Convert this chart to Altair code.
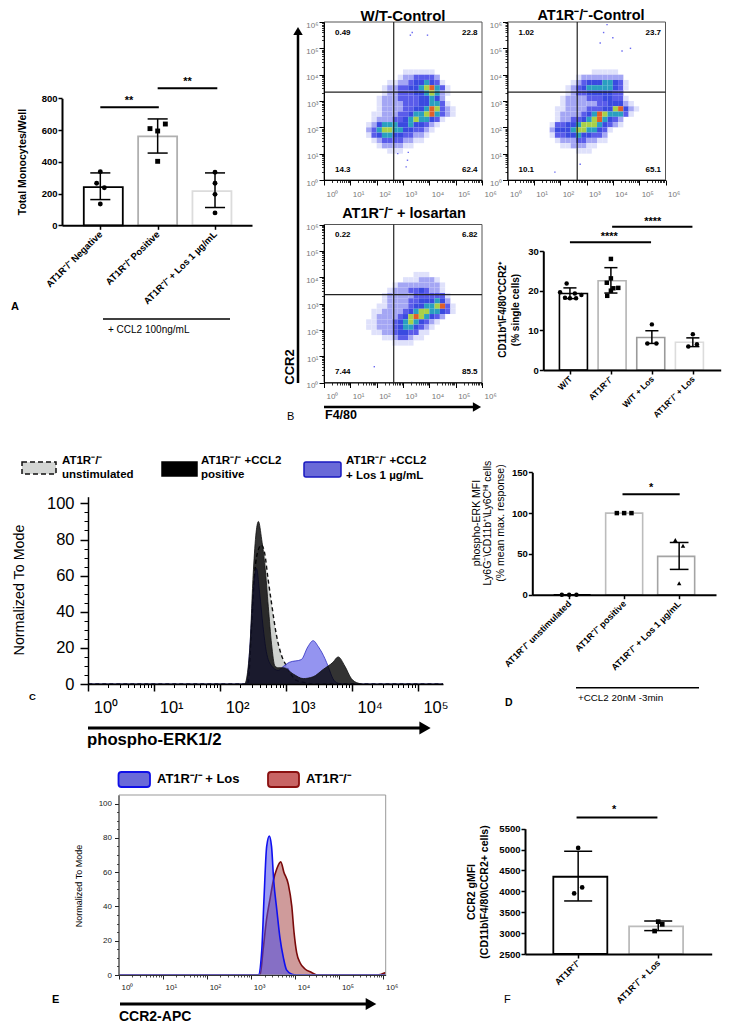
import altair as alt
import pandas as pd

CW, CH = 715, 1019
FONT = "Liberation Sans"
R = "AT1R⁻/⁻"

# ---------- panel A
a_labels = [R + " Negative", R + " Positive", R + " + Los 1 µg/mL"]
a_means = [240, 560, 215]
a_hi = [330, 670, 330]
a_lo = [162, 455, 112]
a_colors = ["#000000", "#b0b0b0", "#dcdcdc"]
a_pts_x = [0, -0.064, 0.07, 0, 0.866, 1, 1.134, 1, 2, 2, 2, 2]
a_pts_y = [338, 265, 237, 134, 609, 594, 638, 403, 334, 265, 195, 78]
a_shapes = ["circle"] * 4 + ["square"] * 4 + ["circle"] * 4

# ---------- panel B bars
b_labels = ["W/T", R, "W/T + Los", R + " + Los"]
b_means = [19.3, 22.5, 8.2, 7.0]
b_hi = [20.7, 25.8, 9.9, 8.1]
b_lo = [18.0, 19.4, 6.7, 5.9]
b_colors = ["#000000", "#b4b4b4", "#9a9a9a", "#dcdcdc"]
b_pts_x = [-0.08, -0.24, 0.12, 0.28, -0.12, 0, 0.15,
           1, 1, 0.9, 1.18, 1, 1.06, 0.91, 2, 1.89, 2.11, 3, 2.89, 3.1]
b_pts_y = [21.8, 19.6, 19.3, 18.9, 18.2, 18.1, 18.1,
           28, 23.1, 22, 20.7, 20.0, 20.6, 18.7, 11.5, 6.7, 6.7, 9, 5.9, 6.5]
b_shapes = ["circle"] * 7 + ["square"] * 7 + ["circle"] * 6

# ---------- flow density grids: columns log10 x 1.7..4.9, rows log10 y 4.1..1.1 (levels read by eye)
flow_wt = ["00000001111110000", "00000012233332000", "00001122344543100", "00012233445675310",
           "00012233344565210", "00122233334454200", "00122223334455310", "00122223344576321",
           "01122233455675321", "01222334565543100", "12455544544321000", "23566554433210000",
           "13455443322100000", "01233332211000000", "00122221100000000", "00001110000000000"]
flow_ko = ["00000000111110000", "00000122222222000", "00001234445543100", "00012345555543100",
           "00012334444433000", "00122223334433100", "00122222233444210", "01122223334467421",
           "01222234576555310", "01223345675432000", "13344566654321000", "24445665543100000",
           "13344544332000000", "01222332211000000", "00112221100000000", "00000111000000000"]
flow_los = ["00000000011100000", "00000001112221000", "00000122222222100", "00001222334322100",
            "00012222233333310", "00012222334445420", "00112222344556731", "01122223456655431",
            "01222234676543200", "11222345654321000", "11222345543210000", "01122344331100000",
            "00011233211000000", "00000111100000000", "00000000000000000", "00000000000000000"]
flow_colors = ["#dfe1fb", "#a4a6f4", "#5a5cea", "#3a4ae0", "#2a9fc0", "#a8d048", "#e06028"]
stray_wt = [(3.35, 5.6), (3.28, 5.5), (3.93, 5.5), (3.2, 1.05), (3.17, 0.75), (3.12, 0.5), (2.8, 1.0)]
stray_ko = [(3.78, 5.9), (4.0, 5.4), (4.35, 4.9), (4.67, 5.0), (3.52, 5.2), (3.65, 5.6), (1.8, 0.3), (2.76, 0.6)]
stray_los = [(1.91, 0.6), (3.33, 0.0)]
flow_wt_q = ["0.49", "22.8", "14.3", "62.4"]
flow_ko_q = ["1.02", "23.7", "10.1", "65.1"]
flow_los_q = ["0.22", "6.82", "7.44", "85.5"]

# ---------- panel C histogram curves (log10 intensity, normalized count)
c_gray_e = [0, 2.42, 2.475, 2.525, 2.576, 2.626, 2.677, 2.727, 2.778, 2.854, 2.929, 3.005, 3.08, 3.157, 3.258, 3.41, 5.38]
c_gray_y = [0, 0, 30, 62, 74, 77, 72, 58, 45, 27, 16, 10, 5, 2, 1, 0, 0]
c_blue_e = [0, 2.40, 2.45, 2.50, 2.55, 2.60, 2.65, 2.70, 2.78, 2.88, 2.95, 3.05, 3.23, 3.33, 3.41, 3.49, 3.59, 3.64, 3.71, 3.79, 3.9, 5.38]
c_blue_y = [0, 0, 20, 50, 64, 50, 32, 18, 10, 7.5, 9.5, 12, 13.5, 20.6, 24, 20.6, 14, 9.6, 3, 0.4, 0, 0]
c_black_e = [0, 2.37, 2.45, 2.50, 2.54, 2.58, 2.63, 2.68, 2.73, 2.78, 2.83, 2.88, 2.96, 3.11, 3.26, 3.41, 3.56, 3.71, 3.79, 3.89, 3.99, 4.09, 4.17, 5.38]
c_black_y = [0, 0, 20, 60, 82, 90, 80, 65, 43, 22, 10, 9, 9, 5.5, 3, 4, 8, 12, 15, 10, 3, 0.5, 0, 0]
c_legend = [[R, "unstimulated"], [R + " +CCL2", "positive"], [R + " +CCL2", "+ Los 1 µg/mL"]]

# ---------- panel D
d_labels = [R + " unstimulated", R + " positive", R + " + Los 1 µg/mL"]
d_means = [0, 100, 47]
d_hi = [0, 100, 64]
d_lo = [0, 100, 31]
d_colors = ["#000000", "#bcbcbc", "#a4a4a4"]
d_pts_x = [-0.133, 0, 0.133, 0.867, 1, 1.133, 1.93, 2.07, 2]
d_pts_y = [0, 0, 0, 100, 100, 100, 67, 60, 14]
d_shapes = ["circle"] * 3 + ["square"] * 3 + ["triangle-up"] * 3

# ---------- panel E curves
e_blue_e = [0, 3.16, 3.24, 3.29, 3.35, 3.41, 3.46, 3.51, 3.58, 3.65, 3.73, 3.80, 3.92, 4.03, 6.05]
e_blue_y = [0, 0, 15, 45, 75, 81, 75, 55, 38, 22, 10, 3, 0.5, 0, 0]
e_red_e = [0, 3.20, 3.27, 3.35, 3.43, 3.50, 3.58, 3.67, 3.74, 3.84, 3.92, 3.97, 4.03, 4.11, 4.22, 4.37, 4.49, 5.85, 6.05]
e_red_y = [0, 0, 15, 33, 45, 55, 62, 66, 60, 53, 40, 25, 13, 7, 3.5, 1.5, 0, 0, 1.5]

# ---------- panel F
f_labels = [R, R + " + Los"]
f_means = [4350, 3160]
f_hi = [4960, 3290]
f_lo = [3770, 3060]
f_colors = ["#000000", "#bcbcbc"]
f_pts_x = [0, 0.05, -0.05, 1, 1.05, 0.955]
f_pts_y = [5040, 4095, 3950, 3275, 3210, 3050]
f_shapes = ["circle"] * 3 + ["square"] * 3

ONE = alt.Data(values=[{"a": 1}])
layers = []


def xs(domain, p0, p1, **k):
    return alt.Scale(domain=domain, range=[p0 - 8, p1 - 8], nice=False, zero=False, **k)


def ys(domain, pb, pt, **k):
    return alt.Scale(domain=domain, range=[pb - 8, pt - 8], nice=False, zero=False, **k)


def txt(s, x, y, size=9, bold=True, align="left", angle=0, color="black", italic=False):
    kw = {}
    if angle:
        kw["angle"] = angle
    if italic:
        kw["fontStyle"] = "italic"
    layers.append(alt.Chart(ONE).mark_text(
        text=s, font=FONT, fontSize=size, fontWeight="bold" if bold else "normal",
        align=align, baseline="middle", color=color, **kw
    ).encode(x=alt.value(x - 8), y=alt.value(y - 8)))


def hline(x0, x1, y, w=1.5, color="black"):
    layers.append(alt.Chart(ONE).mark_rule(strokeWidth=w, color=color).encode(
        x=alt.value(x0 - 8), x2=alt.value(x1 - 8), y=alt.value(y - 8)))


def vline(x, y0, y1, w=1.5, color="black"):
    layers.append(alt.Chart(ONE).mark_rule(strokeWidth=w, color=color).encode(
        x=alt.value(x - 8), y=alt.value(y0 - 8), y2=alt.value(y1 - 8)))


def head(x, y, shape, size=110):
    layers.append(alt.Chart(ONE).mark_point(shape=shape, filled=True, color="black", size=size, opacity=1).encode(
        x=alt.value(x - 8), y=alt.value(y - 8)))


def ax_x(offset_y, **k):
    return dict(orient="bottom", offset=(offset_y - 8) - CH, grid=False, title=None, zindex=1, **k)


def ax_y(offset_x, **k):
    return dict(orient="left", offset=-(offset_x - 8), grid=False, title=None, zindex=1, **k)


def bar_panel(labels, means, hi, lo, colors, ptx, pty, shapes, xdom, xpx, ydom, ypx, yvals, axis_x_left,
              barw, capw, lblsize, ylblsize, sw, ptsize, sig):
    sx = xs(xdom, xpx[0], xpx[1])
    sy = ys(ydom, ypx[0], ypx[1])
    base = ydom[0]
    df = pd.DataFrame({"i": list(range(len(labels))), "m": means, "hi": hi, "lo": lo, "b": base, "c": colors})
    expr = "[" + ",".join("'" + s + "'" for s in labels) + "][datum.value]"
    for _, row in df.iterrows():
        layers.append(alt.Chart(alt.Data(values=[{"i": int(row.i), "m": float(row.m), "b": float(base)}]))
                      .mark_bar(fill="white", stroke=row.c, strokeWidth=sw, size=barw).encode(
            x=alt.X("i:Q", scale=sx, axis=None),
            y=alt.Y("m:Q", scale=sy, axis=None),
            y2=alt.Y2("b:Q")))
    errs = df[df.hi > df.lo].copy()
    errs["l"] = errs.i - capw
    errs["r"] = errs.i + capw
    edata = alt.Data(values=errs[["i", "hi", "lo", "l", "r"]].to_dict("records"))
    layers.append(alt.Chart(edata).mark_rule(color="black", strokeWidth=1.5).encode(
        x=alt.X("i:Q", scale=sx, axis=None), y=alt.Y("hi:Q", scale=sy, axis=None), y2=alt.Y2("lo:Q")))
    for f in ["hi", "lo"]:
        layers.append(alt.Chart(edata).mark_rule(color="black", strokeWidth=1.5).encode(
            x=alt.X("l:Q", scale=sx, axis=None), x2=alt.X2("r:Q"), y=alt.Y(f + ":Q", scale=sy, axis=None)))
    for sh in sorted(set(shapes)):
        pts = [{"x": a, "y": b} for a, b, c in zip(ptx, pty, shapes) if c == sh]
        layers.append(alt.Chart(alt.Data(values=pts)).mark_point(
            shape=sh, filled=True, color="black", size=ptsize, opacity=1).encode(
            x=alt.X("x:Q", scale=sx, axis=None), y=alt.Y("y:Q", scale=sy, axis=None)))
    for x0, x1, v, star_x, star_v, star in sig:
        layers.append(alt.Chart(alt.Data(values=[{"a": x0, "b": x1, "v": v}])).mark_rule(color="black", strokeWidth=2).encode(
            x=alt.X("a:Q", scale=sx, axis=None), x2=alt.X2("b:Q"), y=alt.Y("v:Q", scale=sy, axis=None)))
        layers.append(alt.Chart(alt.Data(values=[{"a": star_x, "v": star_v}])).mark_text(
            text=star, font=FONT, fontSize=11, fontWeight="bold", color="black").encode(
            x=alt.X("a:Q", scale=sx, axis=None), y=alt.Y("v:Q", scale=sy, axis=None)))
    # axes
    common = dict(domainColor="black", domainWidth=2, tickColor="black", tickWidth=1.5, tickSize=4,
                  labelFont=FONT, labelFontWeight="bold", labelColor="black")
    layers.append(alt.Chart(alt.Data(values=[{"i": 0, "v": base}])).mark_point(opacity=0).encode(
        x=alt.X("i:Q", scale=sx, axis=alt.Axis(**ax_x(ypx[0], values=list(range(len(labels))), labelExpr=expr,
                                                       labelAngle=-45, labelAlign="right", labelBaseline="middle",
                                                       labelFontSize=lblsize, labelPadding=3, labelOverlap=False, labelBound=False,
                                                       labelLimit=0, **common))),
        y=alt.Y("v:Q", scale=sy, axis=alt.Axis(**ax_y(axis_x_left, values=yvals, format="d", labelFontSize=ylblsize, labelPadding=1, labelOverlap=False, **common)))))


def flow(grid, stray, quad, x0, ytop):
    x1, ybot = x0 + 158, ytop + 158
    sx = xs([1, 1e6], x0, x1, type="log")
    sy = ys([1, 1e6], ybot, ytop, type="log")
    cells = []
    for r, row in enumerate(grid):
        for c, ch in enumerate(row):
            if ch != "0":
                ex, ey = 1.6 + c * 0.2, 4.0 - r * 0.2
                cells.append({"x0": 10 ** ex, "x1": 10 ** (ex + 0.2), "y0": 10 ** ey, "y1": 10 ** (ey + 0.2), "l": ch})
    layers.append(alt.Chart(alt.Data(values=cells)).mark_rect().encode(
        x=alt.X("x0:Q", scale=sx, axis=None), x2=alt.X2("x1:Q"),
        y=alt.Y("y0:Q", scale=sy, axis=None), y2=alt.Y2("y1:Q"),
        color=alt.Color("l:N", scale=alt.Scale(domain=list("1234567"), range=flow_colors), legend=None)))
    layers.append(alt.Chart(alt.Data(values=[{"x": 10 ** a, "y": 10 ** b} for a, b in stray])).mark_point(
        filled=True, shape="square", size=2, color="#6a6af0", opacity=1).encode(
        x=alt.X("x:Q", scale=sx, axis=None), y=alt.Y("y:Q", scale=sy, axis=None)))
    layers.append(alt.Chart(alt.Data(values=[{"a": 1, "b": 1e6}])).mark_rect(
        fill="transparent", stroke="#555555", strokeWidth=1).encode(
        x=alt.X("a:Q", scale=sx, axis=None), x2=alt.X2("b:Q"),
        y=alt.Y("a:Q", scale=sy, axis=None), y2=alt.Y2("b:Q")))
    gate = alt.Data(values=[{"a": 1, "b": 1e6, "gx": 444, "gy": 2190}])
    layers.append(alt.Chart(gate).mark_rule(color="#222222", strokeWidth=1.2).encode(
        x=alt.X("gx:Q", scale=sx, axis=None), y=alt.Y("a:Q", scale=sy, axis=None), y2=alt.Y2("b:Q")))
    layers.append(alt.Chart(gate).mark_rule(color="#222222", strokeWidth=1.2).encode(
        x=alt.X("a:Q", scale=sx, axis=None), x2=alt.X2("b:Q"), y=alt.Y("gy:Q", scale=sy, axis=None)))
    major = [10 ** d for d in range(7)]
    minor = [m * 10 ** d for d in range(6) for m in range(2, 10)]
    lab = "['10⁰','10¹','10²','10³','10⁴','10⁵','10⁶'][round(log(datum.value)/LN10)]"
    common = dict(domainColor="black", domainWidth=1, tickColor="black", tickWidth=1,
                  labelFont=FONT, labelFontSize=8, labelColor="#777777", labelOverlap=False, labelBound=False, labelFlush=False)
    layers.append(alt.Chart(ONE).mark_point(opacity=0).encode(
        x=alt.X("a:Q", scale=sx, axis=alt.Axis(**ax_x(ybot, values=major, labelExpr=lab, tickSize=5, labelAlign="left",
                                                       labelAngle=0, labelPadding=5, labelOffset=2, **common))),
        y=alt.Y("a:Q", scale=sy, axis=alt.Axis(**ax_y(x0, values=major, labelExpr=lab, tickSize=5, labelOffset=3,
                                                       labelPadding=1, **common)))))
    layers.append(alt.Chart(ONE).mark_point(opacity=0).encode(
        x=alt.X("a:Q", scale=sx, axis=alt.Axis(**ax_x(ybot, values=minor, labels=False, tickSize=2.5, domain=False, tickColor="black", tickWidth=0.8))),
        y=alt.Y("a:Q", scale=sy, axis=alt.Axis(**ax_y(x0, values=minor, labels=False, tickSize=2.5, domain=False, tickColor="black", tickWidth=0.8)))))
    txt(quad[0], x0 + 11, ytop + 10.5, 8)
    txt(quad[1], x0 + 138, ytop + 10.5, 8)
    txt(quad[2], x0 + 11, ytop + 147.5, 8)
    txt(quad[3], x0 + 138, ytop + 147.5, 8)


def curve(ee, yy, sx, sy, fill, opacity, stroke, sw=1, dash=None):
    data = alt.Data(values=[{"x": 10 ** a, "y": b} for a, b in zip(ee, yy)])
    layers.append(alt.Chart(data).mark_area(fill=fill, fillOpacity=opacity, interpolate="monotone", orient="vertical").encode(
        x=alt.X("x:Q", scale=sx, axis=None), y=alt.Y("y:Q", scale=sy, axis=None, stack=None)))
    kw = {"strokeDash": dash} if dash else {}
    layers.append(alt.Chart(data).mark_line(color=stroke, strokeWidth=sw, interpolate="monotone", **kw).encode(
        x=alt.X("x:Q", scale=sx, axis=None), y=alt.Y("y:Q", scale=sy, axis=None)))


# ========== A
bar_panel(a_labels, a_means, a_hi, a_lo, a_colors, a_pts_x, a_pts_y, a_shapes,
          [-0.668, 2.645], (62, 252), [0, 800], (225.3, 98.3), [0, 200, 400, 600, 800], 62,
          39, 0.175, 9.5, 9.5, 1.8, 24,
          [(0, 1.02, 743, 0.5, 780, "**"), (1, 2.04, 863, 1.52, 900, "**")])
txt("Total  Monocytes/Well", 23, 162, 10.5, angle=270, align="center")
hline(103, 230, 319)
txt("+ CCL2 100ng/mL", 108, 330, 10, bold=False)
txt("A", 11, 307, 11)

# ========== B flow
flow(flow_wt, stray_wt, flow_wt_q, 324, 22)
flow(flow_ko, stray_ko, flow_ko_q, 507.5, 22)
flow(flow_los, stray_los, flow_los_q, 324, 224.5)
txt("W/T-Control", 403, 16, 15, align="center")
txt(R + "-Control", 591, 16, 14.5, align="center")
txt(R + " + losartan", 404, 214, 14.5, align="center")
vline(298, 33, 383, 2.5)
head(298, 31, "triangle-up", 90)
txt("CCR2", 290, 367, 13, angle=270, align="center")
hline(324, 478, 407, 2.5)
head(477, 407, "triangle-right", 90)
txt("F4/80", 325, 415, 12.5)
txt("B", 287, 417, 11, bold=False)

# ========== B bars
bar_panel(b_labels, b_means, b_hi, b_lo, b_colors, b_pts_x, b_pts_y, b_shapes,
          [-0.65, 3.68], (543.3, 720.7), [0, 30], (370, 251), [0, 10, 20, 30], 543.3,
          28, 0.16, 8.5, 9.5, 1.6, 20,
          [(0, 1.98, 32.2, 0.96, 33.6, "****"), (1.03, 2.99, 36.1, 2.02, 37.4, "****")])
txt("CD11b⁺\\F4/80⁺CCR2⁺", 503, 310, 10, angle=270, align="center")
txt("(% single cells)", 516, 310, 10, angle=270, align="center")

# ========== C
cx = xs([1, 10 ** 5.38], 88.3, 443, type="log")
cy = ys([0, 103.7], 684, 496.7)
curve(c_gray_e, c_gray_y, cx, cy, "#cfd2cf", 1, "#111111", 1.4, [4, 3])
curve(c_blue_e, c_blue_y, cx, cy, "#5a5ae8", 0.65, "#3030c0", 0.8)
curve(c_black_e, c_black_y, cx, cy, "#000000", 0.8, "#111111", 0.8)
maj = [10 ** d for d in range(6)]
mnr = [m * 10 ** d for d in range(5) for m in range(2, 10)]
lab5 = "['10⁰','10¹','10²','10³','10⁴','10⁵'][round(log(datum.value)/LN10)]"
com = dict(domainColor="black", domainWidth=1.5, tickColor="black", tickWidth=1.5, labelFont=FONT,
           labelFontSize=16.5, labelColor="black", labelOverlap=False, labelBound=False, labelFlush=False)
layers.append(alt.Chart(ONE).mark_point(opacity=0).encode(
    x=alt.X("a:Q", scale=cx, axis=alt.Axis(**ax_x(684, values=maj, labelExpr=lab5, tickSize=7, labelAlign="left",
                                                   labelAngle=0, labelPadding=8, labelOffset=5, **com))),
    y=alt.Y("a:Q", scale=cy, axis=alt.Axis(**ax_y(88, values=[0, 20, 40, 60, 80, 100], tickSize=8, labelPadding=6, **com)))))
layers.append(alt.Chart(ONE).mark_point(opacity=0).encode(
    x=alt.X("a:Q", scale=cx, axis=alt.Axis(**ax_x(684, values=mnr, labels=False, tickSize=3.5, domain=False, tickColor="black", tickWidth=1))),
    y=alt.Y("a:Q", scale=cy, axis=alt.Axis(**ax_y(88, values=[v for v in range(5, 100, 5)], labels=False, tickSize=4, domain=False, tickColor="black", tickWidth=1)))))
txt("Normalized To Mode", 20, 590, 14.3, bold=False, angle=270, align="center")
hline(88, 424, 728, 3)
head(425, 728, "triangle-right", 170)
txt("phospho-ERK1/2", 87, 739.5, 16.7)
txt("C", 29, 697, 9.5)


def swatch(x0, x1, y0, y1, fill, stroke, sw=1.5, dash=None, radius=0):
    kw = {"strokeDash": dash} if dash else {}
    layers.append(alt.Chart(ONE).mark_rect(fill=fill, stroke=stroke, strokeWidth=sw, cornerRadius=radius, **kw).encode(
        x=alt.value(x0 - 8), x2=alt.value(x1 - 8), y=alt.value(y0 - 8), y2=alt.value(y1 - 8)))


swatch(22, 56, 462, 474, "#d4d6d4", "#111111", 1.5, [5, 3])
swatch(162, 197, 462, 476, "#000000", "#000000")
swatch(304, 341, 462, 477, "#6a6ad8", "#1818c0", 1.5, None, 2)
txt(c_legend[0][0], 62, 461, 11.5)
txt(c_legend[0][1], 62, 475, 11.5)
txt(c_legend[1][0], 201, 461, 11.5)
txt(c_legend[1][1], 201, 475, 11.5)
txt(c_legend[2][0], 346, 461, 11.5)
txt(c_legend[2][1], 346, 476, 11.5)

# ========== D
bar_panel(d_labels, d_means, d_hi, d_lo, d_colors, d_pts_x, d_pts_y, d_shapes,
          [-0.67, 2.67], (532.3, 716), [0, 150], (594.7, 472.3), [0, 50, 100, 150], 532.3,
          37, 0.17, 9, 9.5, 1.6, 20,
          [(0.97, 2.01, 123, 1.49, 131, "*")])
txt("phospho-ERK MFI", 476.7, 523, 10.5, angle=270, align="center", bold=False)
txt("Ly6G⁻\\CD11b⁺\\Ly6Cᴴᴵ cells", 488, 523, 10.5, angle=270, align="center", bold=False)
txt("(% mean max. response)", 500.5, 523, 10.5, angle=270, align="center", bold=False)
hline(576, 699, 687.7)
txt("+CCL2 20nM -3min", 578, 698, 9.8, bold=False)
txt("D", 505, 703, 10.5)

# ========== E
ex = xs([1, 10 ** 6.05], 119, 385.7, type="log")
ey = ys([0, 105], 975, 795)
curve(e_red_e, e_red_y, ex, ey, "#a84848", 0.55, "#7a0a0a", 1.6)
curve(e_blue_e, e_blue_y, ex, ey, "#4a4ae8", 0.55, "#1010f0", 1.6)
layers.append(alt.Chart(alt.Data(values=[{"a": 1, "b": 10 ** 6.05, "c": 0, "d": 105}])).mark_rect(
    fill="transparent", stroke="#999999", strokeWidth=1).encode(
    x=alt.X("a:Q", scale=ex, axis=None), x2=alt.X2("b:Q"),
    y=alt.Y("c:Q", scale=ey, axis=None), y2=alt.Y2("d:Q")))
maj6 = [10 ** d for d in range(7)]
mnr6 = [m * 10 ** d for d in range(6) for m in range(2, 10)]
lab6 = "['10⁰','10¹','10²','10³','10⁴','10⁵','10⁶'][round(log(datum.value)/LN10)]"
com = dict(domainColor="#333333", domainWidth=1, tickColor="#222222", tickWidth=1, labelFont=FONT,
           labelFontSize=8, labelColor="#222222", labelOverlap=False, labelBound=False, labelFlush=False)
layers.append(alt.Chart(ONE).mark_point(opacity=0).encode(
    x=alt.X("a:Q", scale=ex, axis=alt.Axis(**ax_x(975, values=maj6, labelExpr=lab6, tickSize=4, labelAlign="left",
                                                   labelAngle=0, labelPadding=4, labelOffset=2, **com))),
    y=alt.Y("a:Q", scale=ey, axis=alt.Axis(**ax_y(118.5, values=[0, 20, 40, 60, 80, 100], tickSize=4, labelPadding=3, **com)))))
layers.append(alt.Chart(ONE).mark_point(opacity=0).encode(
    x=alt.X("a:Q", scale=ex, axis=alt.Axis(**ax_x(975, values=mnr6, labels=False, tickSize=2, domain=False, tickColor="#222222", tickWidth=0.8))),
    y=alt.Y("a:Q", scale=ey, axis=alt.Axis(**ax_y(118.5, values=[v for v in range(5, 100, 5)], labels=False, tickSize=2, domain=False, tickColor="#222222", tickWidth=0.8)))))
txt("Normalized To Mode", 79, 886, 9, bold=False, angle=270, align="center")
swatch(118.5, 150, 772, 787, "#6a6ad8", "#1010e8", 1.8, None, 3)
swatch(268, 299, 772, 787, "#c86464", "#8a1010", 1.8, None, 3)
txt(R + " + Los", 157, 779, 13)
txt(R, 306, 779, 13)
hline(120, 369, 1004, 3)
head(371, 1004, "triangle-right", 150)
txt("CCR2-APC", 119, 1017, 14)
txt("E", 52, 1000, 11)

# ========== F
bar_panel(f_labels, f_means, f_hi, f_lo, f_colors, f_pts_x, f_pts_y, f_shapes,
          [-0.664, 1.668], (525, 711.7), [2500, 5500], (954, 828.7), [2500, 3000, 3500, 4000, 4500, 5000, 5500], 525,
          54, 0.175, 9, 9.5, 1.8, 22,
          [(-0.02, 0.99, 5770, 0.45, 5950, "*")])
txt("CCR2 gMFI", 471.7, 892, 10.5, angle=270, align="center")
txt("(CD11b\\F4/80\\CCR2+ cells)", 485, 892, 10.5, angle=270, align="center")
txt("F", 504, 1000, 11, bold=False)

chart = alt.layer(*layers).resolve_scale(x="independent", y="independent", color="independent").properties(
    width=CW, height=CH, padding=0, autosize=alt.AutoSizeParams(type="none")
).configure_view(stroke=None)

chart.save("out.html", embed_options={"renderer": "svg", "actions": False})
